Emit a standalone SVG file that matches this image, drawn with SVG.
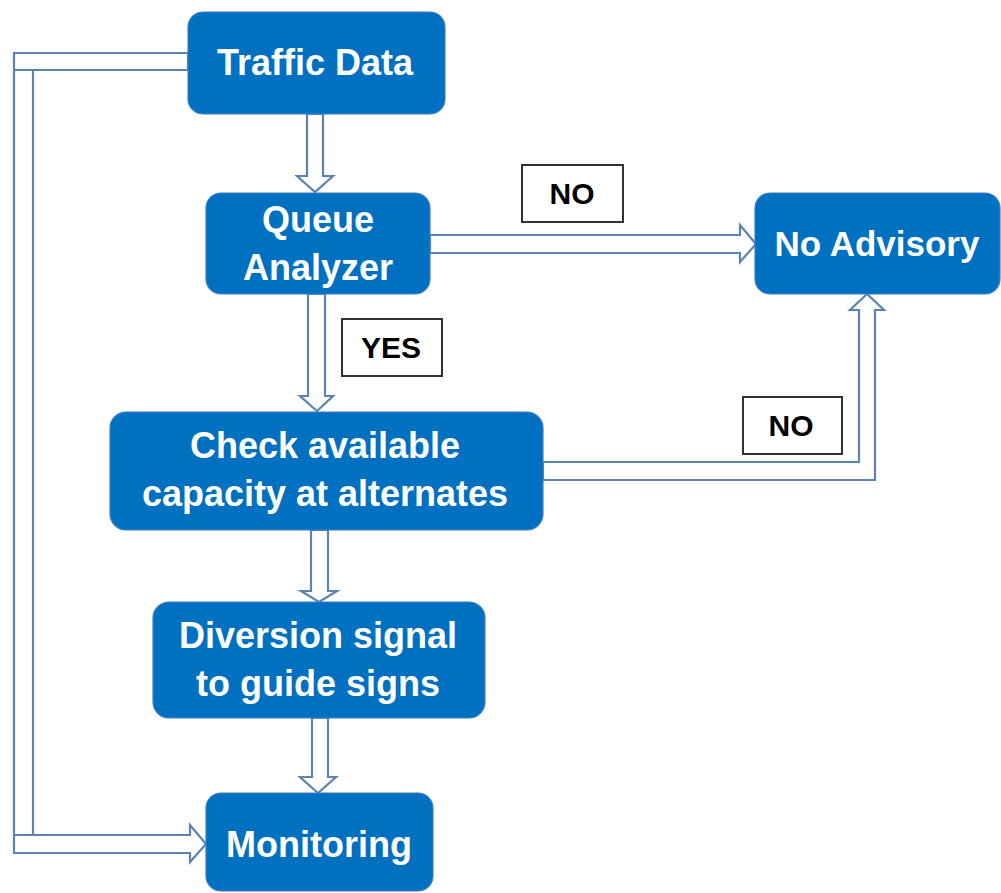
<svg xmlns="http://www.w3.org/2000/svg" width="1001" height="893" viewBox="0 0 1001 893">
  <style>
    .node rect { fill: #0070c0; stroke: #3f7fc4; stroke-width: 1.2; }
    .node text { fill: #ffffff; font-family: "Liberation Sans", Arial, sans-serif; font-weight: bold; font-size: 36px; text-anchor: middle; }
    .conn { fill: #ffffff; stroke: #5b84b1; stroke-width: 2.2; stroke-linejoin: miter; }
    .seam { fill: none; stroke: #5b84b1; stroke-width: 2.2; }
    .tag rect { fill: #ffffff; stroke: #333333; stroke-width: 2; }
    .tag text { fill: #000000; font-family: "Liberation Sans", Arial, sans-serif; font-weight: bold; font-size: 30px; text-anchor: middle; }
  </style>
  <rect width="1001" height="893" fill="#ffffff"/>

  <!-- block arrows -->
  <g id="connectors">
    <!-- Traffic Data -> Queue Analyzer -->
    <polygon class="conn" points="307,114 323,114 323,176 333,176 315,192 297,176 307,176"/>
    <!-- Queue Analyzer -> Check capacity (YES) -->
    <polygon class="conn" points="308,294 325,294 325,396 333,396 317,411 300,396 308,396"/>
    <!-- Check capacity -> Diversion signal -->
    <polygon class="conn" points="311,530 328,530 328,591 337,591 319,602 301,591 311,591"/>
    <!-- Diversion signal -> Monitoring -->
    <polygon class="conn" points="312,718 328,718 328,777 336,777 318,793 300,777 312,777"/>
    <!-- Queue Analyzer -> No Advisory (NO) -->
    <polygon class="conn" points="430,235 740,235 740,225 756,244 740,262 740,253 430,253"/>
    <!-- Check capacity -> No Advisory (NO) -->
    <polygon class="conn" points="543,462 859,462 859,310 850,310 867,294 884,310 875,310 875,480 543,480"/>
    <!-- Traffic Data -> Monitoring bypass -->
    <polygon class="conn" points="188,53 14,53 14,853 190,853 190,862 206,844 190,825 190,835 33,835 33,70 188,70"/>
    <path class="seam" d="M14,70 H33 M14,835 H33"/>
  </g>

  <g id="traffic-data" class="node">
    <rect x="188" y="12" width="257" height="102" rx="15"/>
    <text x="315" y="75">Traffic Data</text>
  </g>
  <g id="queue-analyzer" class="node">
    <rect x="206" y="193" width="224" height="101" rx="15"/>
    <text x="318" y="232">Queue</text>
    <text x="318" y="280">Analyzer</text>
  </g>
  <g id="no-advisory" class="node">
    <rect x="755" y="193" width="245" height="101" rx="15"/>
    <text x="877" y="256" style="font-size:35px">No Advisory</text>
  </g>
  <g id="check-capacity" class="node">
    <rect x="110" y="412" width="433" height="118" rx="16"/>
    <text x="325" y="458">Check available</text>
    <text x="325" y="506">capacity at alternates</text>
  </g>
  <g id="diversion-signal" class="node">
    <rect x="153" y="602" width="332" height="116" rx="16"/>
    <text x="318" y="648">Diversion signal</text>
    <text x="318" y="696">to guide signs</text>
  </g>
  <g id="monitoring" class="node">
    <rect x="206" y="793" width="227" height="98" rx="15"/>
    <text x="319" y="857">Monitoring</text>
  </g>

  <g id="label-no-top" class="tag">
    <rect x="522" y="165" width="101" height="57"/>
    <text x="572" y="204">NO</text>
  </g>
  <g id="label-yes" class="tag">
    <rect x="342" y="319" width="100" height="57"/>
    <text x="391" y="358">YES</text>
  </g>
  <g id="label-no-right" class="tag">
    <rect x="743" y="397" width="99" height="57"/>
    <text x="791" y="436">NO</text>
  </g>
</svg>
